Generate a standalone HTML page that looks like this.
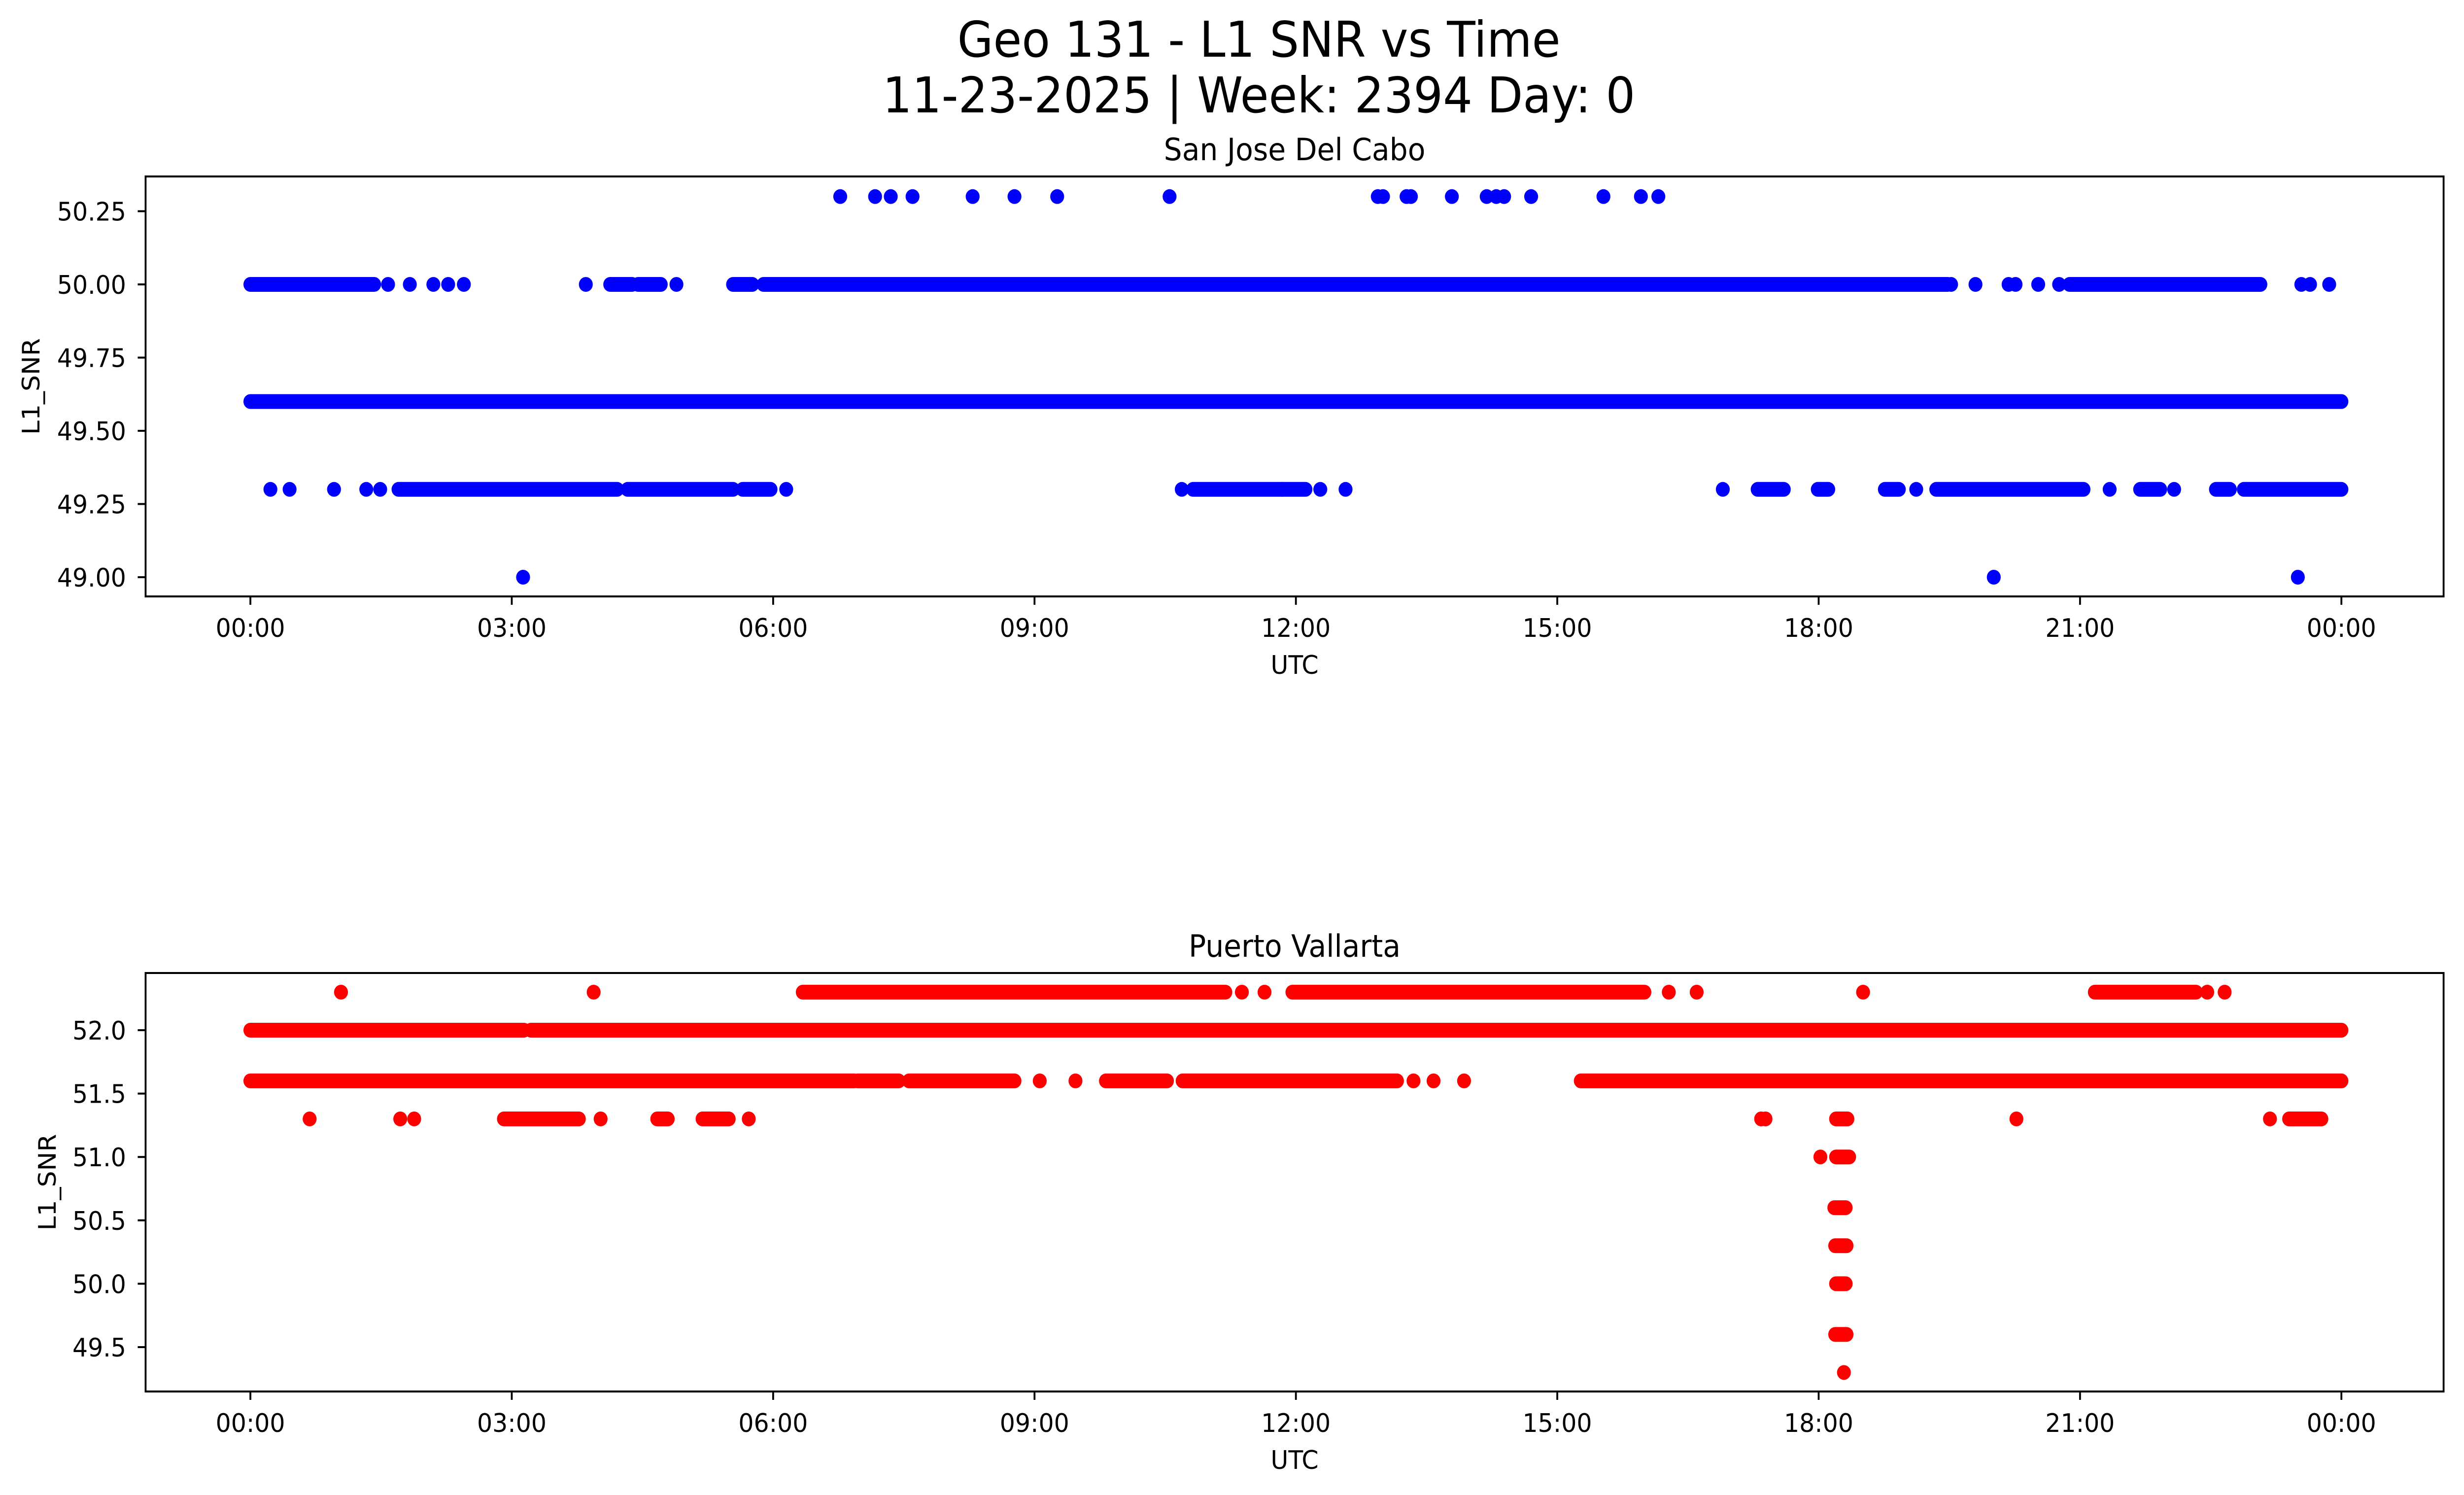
<!DOCTYPE html>
<html><head><meta charset="utf-8"><style>
html,body{margin:0;padding:0;background:#fff;overflow:hidden;width:100%;height:100%;}
svg{display:block;position:fixed;left:0;top:0;width:100vw;height:100vh;font-family:"DejaVu Sans","Liberation Sans",sans-serif;}
</style></head><body>
<svg id="fig" viewBox="0 0 5314 3033" preserveAspectRatio="none" xmlns="http://www.w3.org/2000/svg">
<rect width="5314" height="3033" fill="#fff"/>
<text x="2715" y="115" font-size="100" text-anchor="middle">Geo 131 - L1 SNR vs Time</text>
<text x="2715" y="228" font-size="100" text-anchor="middle">11-23-2025 | Week: 2394 Day: 0</text>
<g id="top"></g>
<g id="bot"></g>
</svg>
<script>
// ---- data (hours UTC) ----
const xTickLabels = ["00:00","03:00","06:00","09:00","12:00","15:00","18:00","21:00","00:00"];
const xTickHours = [0,3,6,9,12,15,18,21,24];
const topYTicks = [50.25,50.00,49.75,49.50,49.25,49.00];
const topYTickLabels = ["50.25","50.00","49.75","49.50","49.25","49.00"];
const botYTicks = [52.0,51.5,51.0,50.5,50.0,49.5];
const botYTickLabels = ["52.0","51.5","51.0","50.5","50.0","49.5"];

// San Jose Del Cabo: runs [start,end,value] and single points [hour,value]
const sjRuns = [
 [0,1.42,50.0],[4.13,4.38,50.0],[4.45,4.71,50.0],[5.54,5.76,50.0],[5.89,19.48,50.0],[20.88,23.07,50.0],
 [0,24,49.6],
 [1.70,4.21,49.3],[4.33,5.54,49.3],[5.65,5.97,49.3],[10.82,11.84,49.3],[11.84,12.11,49.3],
 [17.30,17.60,49.3],[17.99,18.11,49.3],[18.76,18.92,49.3],[19.35,21.04,49.3],[21.69,21.92,49.3],
 [22.56,22.72,49.3],[22.88,24.0,49.3]
];
const sjPoints = [
 [6.77,50.3],[7.17,50.3],[7.35,50.3],[7.60,50.3],[8.29,50.3],[8.77,50.3],[9.26,50.3],[10.55,50.3],
 [12.94,50.3],[13.0,50.3],[13.27,50.3],[13.32,50.3],[13.79,50.3],[14.19,50.3],[14.30,50.3],[14.39,50.3],
 [14.70,50.3],[15.53,50.3],[15.96,50.3],[16.16,50.3],
 [1.58,50.0],[1.83,50.0],[2.10,50.0],[2.27,50.0],[2.45,50.0],[3.85,50.0],[4.89,50.0],
 [19.52,50.0],[19.80,50.0],[20.18,50.0],[20.26,50.0],[20.52,50.0],[20.76,50.0],[23.54,50.0],[23.64,50.0],[23.86,50.0],
 [0.23,49.3],[0.45,49.3],[0.96,49.3],[1.33,49.3],[1.49,49.3],[6.15,49.3],[10.69,49.3],[12.28,49.3],[12.57,49.3],
 [16.90,49.3],[19.12,49.3],[21.34,49.3],[22.08,49.3],
 [3.13,49.0],[20.01,49.0],[23.50,49.0]
];
// Puerto Vallarta
const pvRuns = [
 [6.34,11.19,52.3],[11.96,16.0,52.3],[21.17,22.33,52.3],
 [0,3.14,52.0],[3.22,24,52.0],
 [0,6.93,51.6],[6.97,7.44,51.6],[7.56,8.77,51.6],[9.82,10.52,51.6],[10.70,13.16,51.6],[15.27,24,51.6],
 [2.91,3.77,51.3],[4.67,4.79,51.3],[5.19,5.49,51.3],[18.20,18.33,51.3],[23.40,23.77,51.3],
 [18.20,18.35,51.0],[18.18,18.31,50.6],[18.19,18.32,50.3],[18.20,18.31,50.0],[18.19,18.32,49.6]
];
const pvPoints = [
 [1.04,52.3],[3.94,52.3],[11.38,52.3],[11.64,52.3],[16.28,52.3],[16.60,52.3],[18.51,52.3],[22.46,52.3],[22.66,52.3],
 [9.06,51.6],[9.47,51.6],[13.35,51.6],[13.58,51.6],[13.93,51.6],
 [0.68,51.3],[1.72,51.3],[1.88,51.3],[4.02,51.3],[5.72,51.3],[17.34,51.3],[17.39,51.3],[20.27,51.3],[23.18,51.3],
 [18.02,51.0],[18.29,49.3]
];

// ---- layout ----
const NS="http://www.w3.org/2000/svg";
const X0=540, PXH=187.9, AXL=314, AXR=5270, R=15;
const xAxis = h => X0 + h*PXH;
function el(tag, attrs, parent){const e=document.createElementNS(NS,tag);for(const k in attrs)e.setAttribute(k,attrs[k]);parent.appendChild(e);return e;}

function panel(g, cfg){
  const yAxis = v => cfg.y0 - (v-cfg.v0)*cfg.ppu;
  cfg.runs.forEach(r=>{
    const ln=el('line',{x1:xAxis(r[0]),x2:xAxis(r[1]),y1:yAxis(r[2]),y2:yAxis(r[2]),stroke:cfg.color,'stroke-width':2*R,'stroke-linecap':'round'},g);
    
    
  });
  cfg.points.forEach(p=>{
    const c=el('circle',{cx:xAxis(p[0]),cy:yAxis(p[1]),r:R,fill:cfg.color},g);
    
    
  });
  const fr=el('rect',{x:AXL,y:cfg.top,width:AXR-AXL,height:cfg.bottom-cfg.top,fill:'none',stroke:'#000','stroke-width':4},g);
  
  
  xTickHours.forEach((h,i)=>{
    const x=xAxis(h);
    const t=el('line',{x1:x,x2:x,y1:cfg.bottom,y2:cfg.bottom+17,stroke:'#000','stroke-width':4},g);
    
    
    const tx=el('text',{x:x,y:cfg.bottom+82,'font-size':52,'text-anchor':'middle'},g);
    tx.textContent=xTickLabels[i];
    
    
  });
  cfg.yt.forEach((v,i)=>{
    const y=yAxis(v);
    const t=el('line',{x1:AXL-17,x2:AXL,y1:y,y2:y,stroke:'#000','stroke-width':4},g);
    
    
    const tx=el('text',{x:272,y:y+19,'font-size':52,'text-anchor':'end'},g);
    tx.textContent=cfg.ytl[i];
    
    
  });
  const xl=el('text',{x:(AXL+AXR)/2,y:cfg.bottom+157,'font-size':52,'text-anchor':'middle'},g);
  xl.textContent='UTC';
  
  
  const cy=(cfg.top+cfg.bottom)/2;
  const yl=el('text',{x:cfg.ylx,y:cy,'font-size':52,'text-anchor':'middle',transform:`rotate(-90 ${cfg.ylx} ${cy})`},g);
  yl.textContent='L1_SNR';
  
  
  const ti=el('text',{x:(AXL+AXR)/2,y:cfg.top-33,'font-size':62,'text-anchor':'middle'},g);
  ti.textContent=cfg.title;
  
  
}

panel(document.getElementById('top'),{top:358,bottom:1210,y0:577,v0:50.0,ppu:594,color:'#0000ff',
  runs:sjRuns,points:sjPoints,yt:topYTicks,ytl:topYTickLabels,ylx:85,title:'San Jose Del Cabo',prefix:'san-jose'});
panel(document.getElementById('bot'),{top:1974,bottom:2823,y0:2090,v0:52.0,ppu:257.2,color:'#ff0000',
  runs:pvRuns,points:pvPoints,yt:botYTicks,ytl:botYTickLabels,ylx:120,title:'Puerto Vallarta',prefix:'puerto-vallarta'});
</script>
</body></html>
